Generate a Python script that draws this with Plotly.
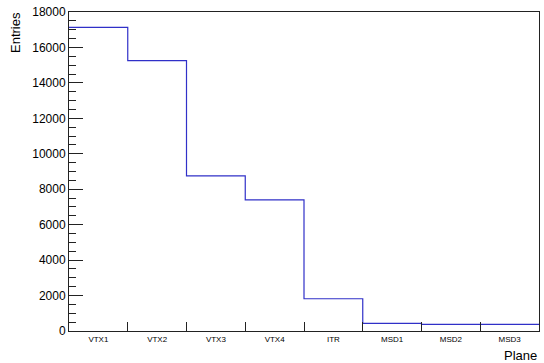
import plotly.graph_objects as go

planes = ["VTX1", "VTX2", "VTX3", "VTX4", "ITR", "MSD1", "MSD2", "MSD3"]
entries = [17130, 15260, 8750, 7400, 1820, 430, 370, 370]

edges = list(range(len(planes) + 1))
centers = [i + 0.5 for i in range(len(planes))]
step_y = entries + [entries[-1]]

fig = go.Figure()
fig.add_trace(go.Scatter(
    x=edges, y=step_y, mode="lines", line_shape="hv",
    line=dict(color="#3030c8", width=1.2), hoverinfo="skip", showlegend=False,
))

FONT = "Liberation Sans, Arial, Helvetica, sans-serif"

fig.update_layout(
    width=544, height=363,
    margin=dict(l=69, r=5, t=12, b=32, pad=0),
    paper_bgcolor="white", plot_bgcolor="white",
    font=dict(family=FONT, color="black"),
    xaxis=dict(
        range=[0, len(planes)], showgrid=False, zeroline=False,
        showline=True, linecolor="#222", linewidth=1, mirror=True,
        tickmode="array", tickvals=centers, ticktext=planes,
        ticks="inside", ticklen=0, tickfont=dict(size=8, family=FONT),
        minor=dict(tick0=0, dtick=1, ticks="inside", ticklen=9,
                   tickcolor="#222", tickwidth=1, showgrid=False),
    ),
    yaxis=dict(
        range=[0, 18000], showgrid=False, zeroline=False,
        showline=True, linecolor="#222", linewidth=1, mirror=True,
        tickmode="linear", tick0=0, dtick=2000, tickformat="d",
        ticks="inside", ticklen=14, tickcolor="#222", tickwidth=1,
        tickfont=dict(size=12, family=FONT),
        minor=dict(tick0=0, dtick=500, ticks="inside", ticklen=7,
                   tickcolor="#222", tickwidth=1, showgrid=False),
    ),
    annotations=[
        dict(text="Entries", xref="paper", yref="paper", x=-69/470, y=1.0,
             xanchor="left", yanchor="top", showarrow=False, textangle=-90,
             font=dict(size=13, family=FONT), xshift=6, yshift=2),
        dict(text="Plane", xref="paper", yref="paper", x=1.0, y=0,
             xanchor="right", yanchor="top", showarrow=False,
             font=dict(size=13, family=FONT), yshift=-15, xshift=0),
    ],
)

fig.write_html("out.html")
